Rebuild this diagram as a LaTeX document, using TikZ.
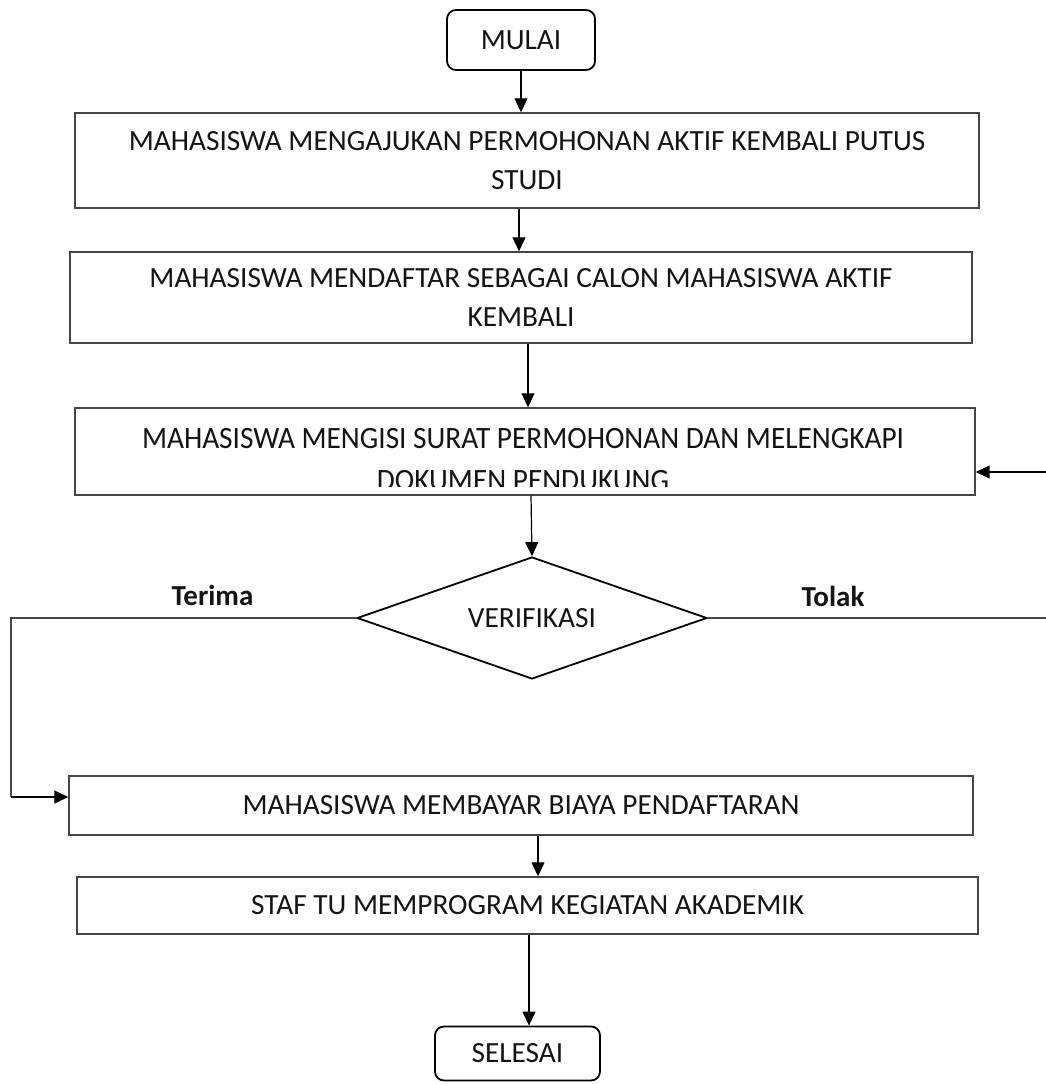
\documentclass[tikz,border=0pt]{standalone}
\usepackage{fontspec}
\setmainfont{Carlito}
\usetikzlibrary{shapes.geometric,arrows.meta}
\definecolor{frame}{RGB}{70,70,70}
\definecolor{ink}{RGB}{20,20,20}
\begin{document}
\begin{tikzpicture}[x=1pt,y=-1pt,
  txt/.style={font=\fontsize{29.3}{38.5}\selectfont, text=ink, align=center},
  stepbox/.style={draw=frame, line width=1.4pt, inner sep=0pt, txt},
  termbox/.style={draw=black, line width=1.8pt, rounded corners=9pt, inner sep=0pt, txt},
  decision/.style={diamond, draw=black, line width=1.8pt, inner sep=0pt, txt},
  link/.style={draw=black, line width=1.2pt},
  arr/.style={link, -{Triangle[length=14pt,width=13pt]}},
  branch/.style={font=\fontsize{29}{32}\selectfont\bfseries, text=ink, inner sep=0pt}]
\useasboundingbox (0,0) rectangle (1046,1084);
\fill[white] (0,0) rectangle (1046,1084);

% process steps
\node[termbox, minimum width=148pt, minimum height=60pt] (mulai) at (521,40) {MULAI};
\node[stepbox, minimum width=904pt, minimum height=95pt] (s1) at (527,160.5)
  {MAHASISWA MENGAJUKAN PERMOHONAN AKTIF KEMBALI PUTUS\\STUDI};
\node[stepbox, minimum width=902pt, minimum height=91pt] (s2) at (521,297.5)
  {MAHASISWA MENDAFTAR SEBAGAI CALON MAHASISWA AKTIF\\KEMBALI};
\node[stepbox, minimum width=900pt, minimum height=87pt] (s3) at (525,451.5) {};
% the second line of this step is cut off by the frame
\coordinate (cut) at (0,486);
\begin{scope}
  \clip (s3.north west) rectangle (s3.east |- cut);
  \node[txt, font=\fontsize{29.3}{40}\selectfont, inner sep=0pt, anchor=north, yscale=1.06] (s3t) at (523,428)
    {MAHASISWA MENGISI SURAT PERMOHONAN DAN MELENGKAPI\\DOKUMEN PENDUKUNG};
\end{scope}
\node[decision, minimum width=350pt, minimum height=122pt, shape aspect=2.9] (ver) at (532,618) {VERIFIKASI};
\node[stepbox, minimum width=904pt, minimum height=59pt] (s4) at (521,805.5)
  {MAHASISWA MEMBAYAR BIAYA PENDAFTARAN};
\node[stepbox, minimum width=901pt, minimum height=57pt] (s5) at (527.5,905.5)
  {STAF TU MEMPROGRAM KEGIATAN AKADEMIK};
\node[termbox, minimum width=165pt, minimum height=54pt] (selesai) at (517.5,1053.5) {SELESAI};

% branch labels
\node[branch, anchor=base] (terima) at (212.5,605) {Terima};
\node[branch, anchor=base] (tolak) at (833,606) {Tolak};

% connector columns and corner points
\coordinate (c1) at (519,0);
\coordinate (c2) at (528,0);
\coordinate (c3) at (531,0);
\coordinate (c4) at (538,0);
\coordinate (c5) at (529,0);
\coordinate (lt) at (11,797);
\coordinate (rt) at (1062,472);

% connectors
\draw[arr] (mulai.south) -- (mulai.south |- s1.north);
\draw[arr] (s1.south -| c1) -- (s2.north -| c1);
\draw[arr] (s2.south -| c2) -- (s3.north -| c2);
\draw[arr] (s3.south -| c3) -- (ver.north);
\draw[link, draw=frame] (ver.west) -| (lt);
\draw[arr] (lt) -- (s4.west |- lt);
\draw[link, draw=frame] (ver.east) -| (rt);
\draw[arr] (rt) -- (s3.east |- rt);
\draw[arr] (s4.south -| c4) -- (s5.north -| c4);
\draw[arr] (s5.south -| c5) -- (selesai.north -| c5);
\end{tikzpicture}
\end{document}
